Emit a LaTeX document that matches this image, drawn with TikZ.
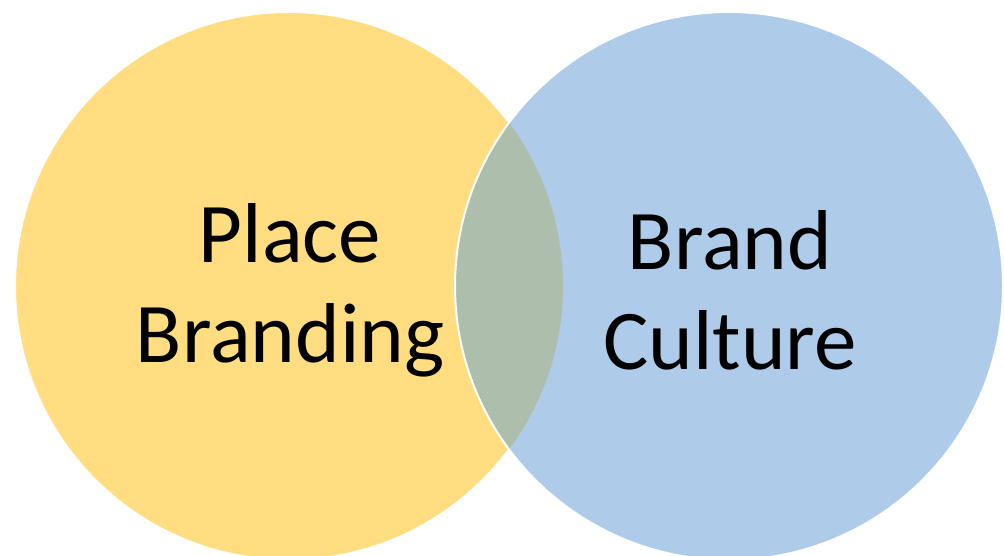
\documentclass[tikz,border=0pt]{standalone}
\usepackage{fontspec}
\setmainfont{Carlito}
\usepackage{tikz}
\tikzset{
	setA/.style   = {fill = placeyellow},
	setB/.style   = {fill = brandblue},
	overlap/.style = {fill = mixgreen},
	rim/.style    = {draw = white, line width = 2pt},
	label/.style  = {align = center, inner sep = 0pt,
		font = \fontsize{85}{100}\selectfont}
}
\definecolor{placeyellow}{RGB}{255,221,128}
\definecolor{brandblue}{RGB}{174,203,233}
\definecolor{mixgreen}{RGB}{174,190,172}

\begin{document}
\begin{tikzpicture}[x=1pt, y=1pt]
		\useasboundingbox (0,0) rectangle (1004,555);
		% the two sets
		\path[setA, rim] (289,269) circle (274);
		\path[setB] (729,269) circle (274);
		% their overlap
		\begin{scope}
			\clip (289,269) circle (274);
			\path[overlap] (729,269) circle (274);
		\end{scope}
		\path[rim] (729,269) circle (274);
		
		\draw
		node at (290,265) [label] (place) {Place\\Branding}
		node at (730,265) [label] (brand) {Brand\\Culture};
		
\end{tikzpicture}
\end{document}
